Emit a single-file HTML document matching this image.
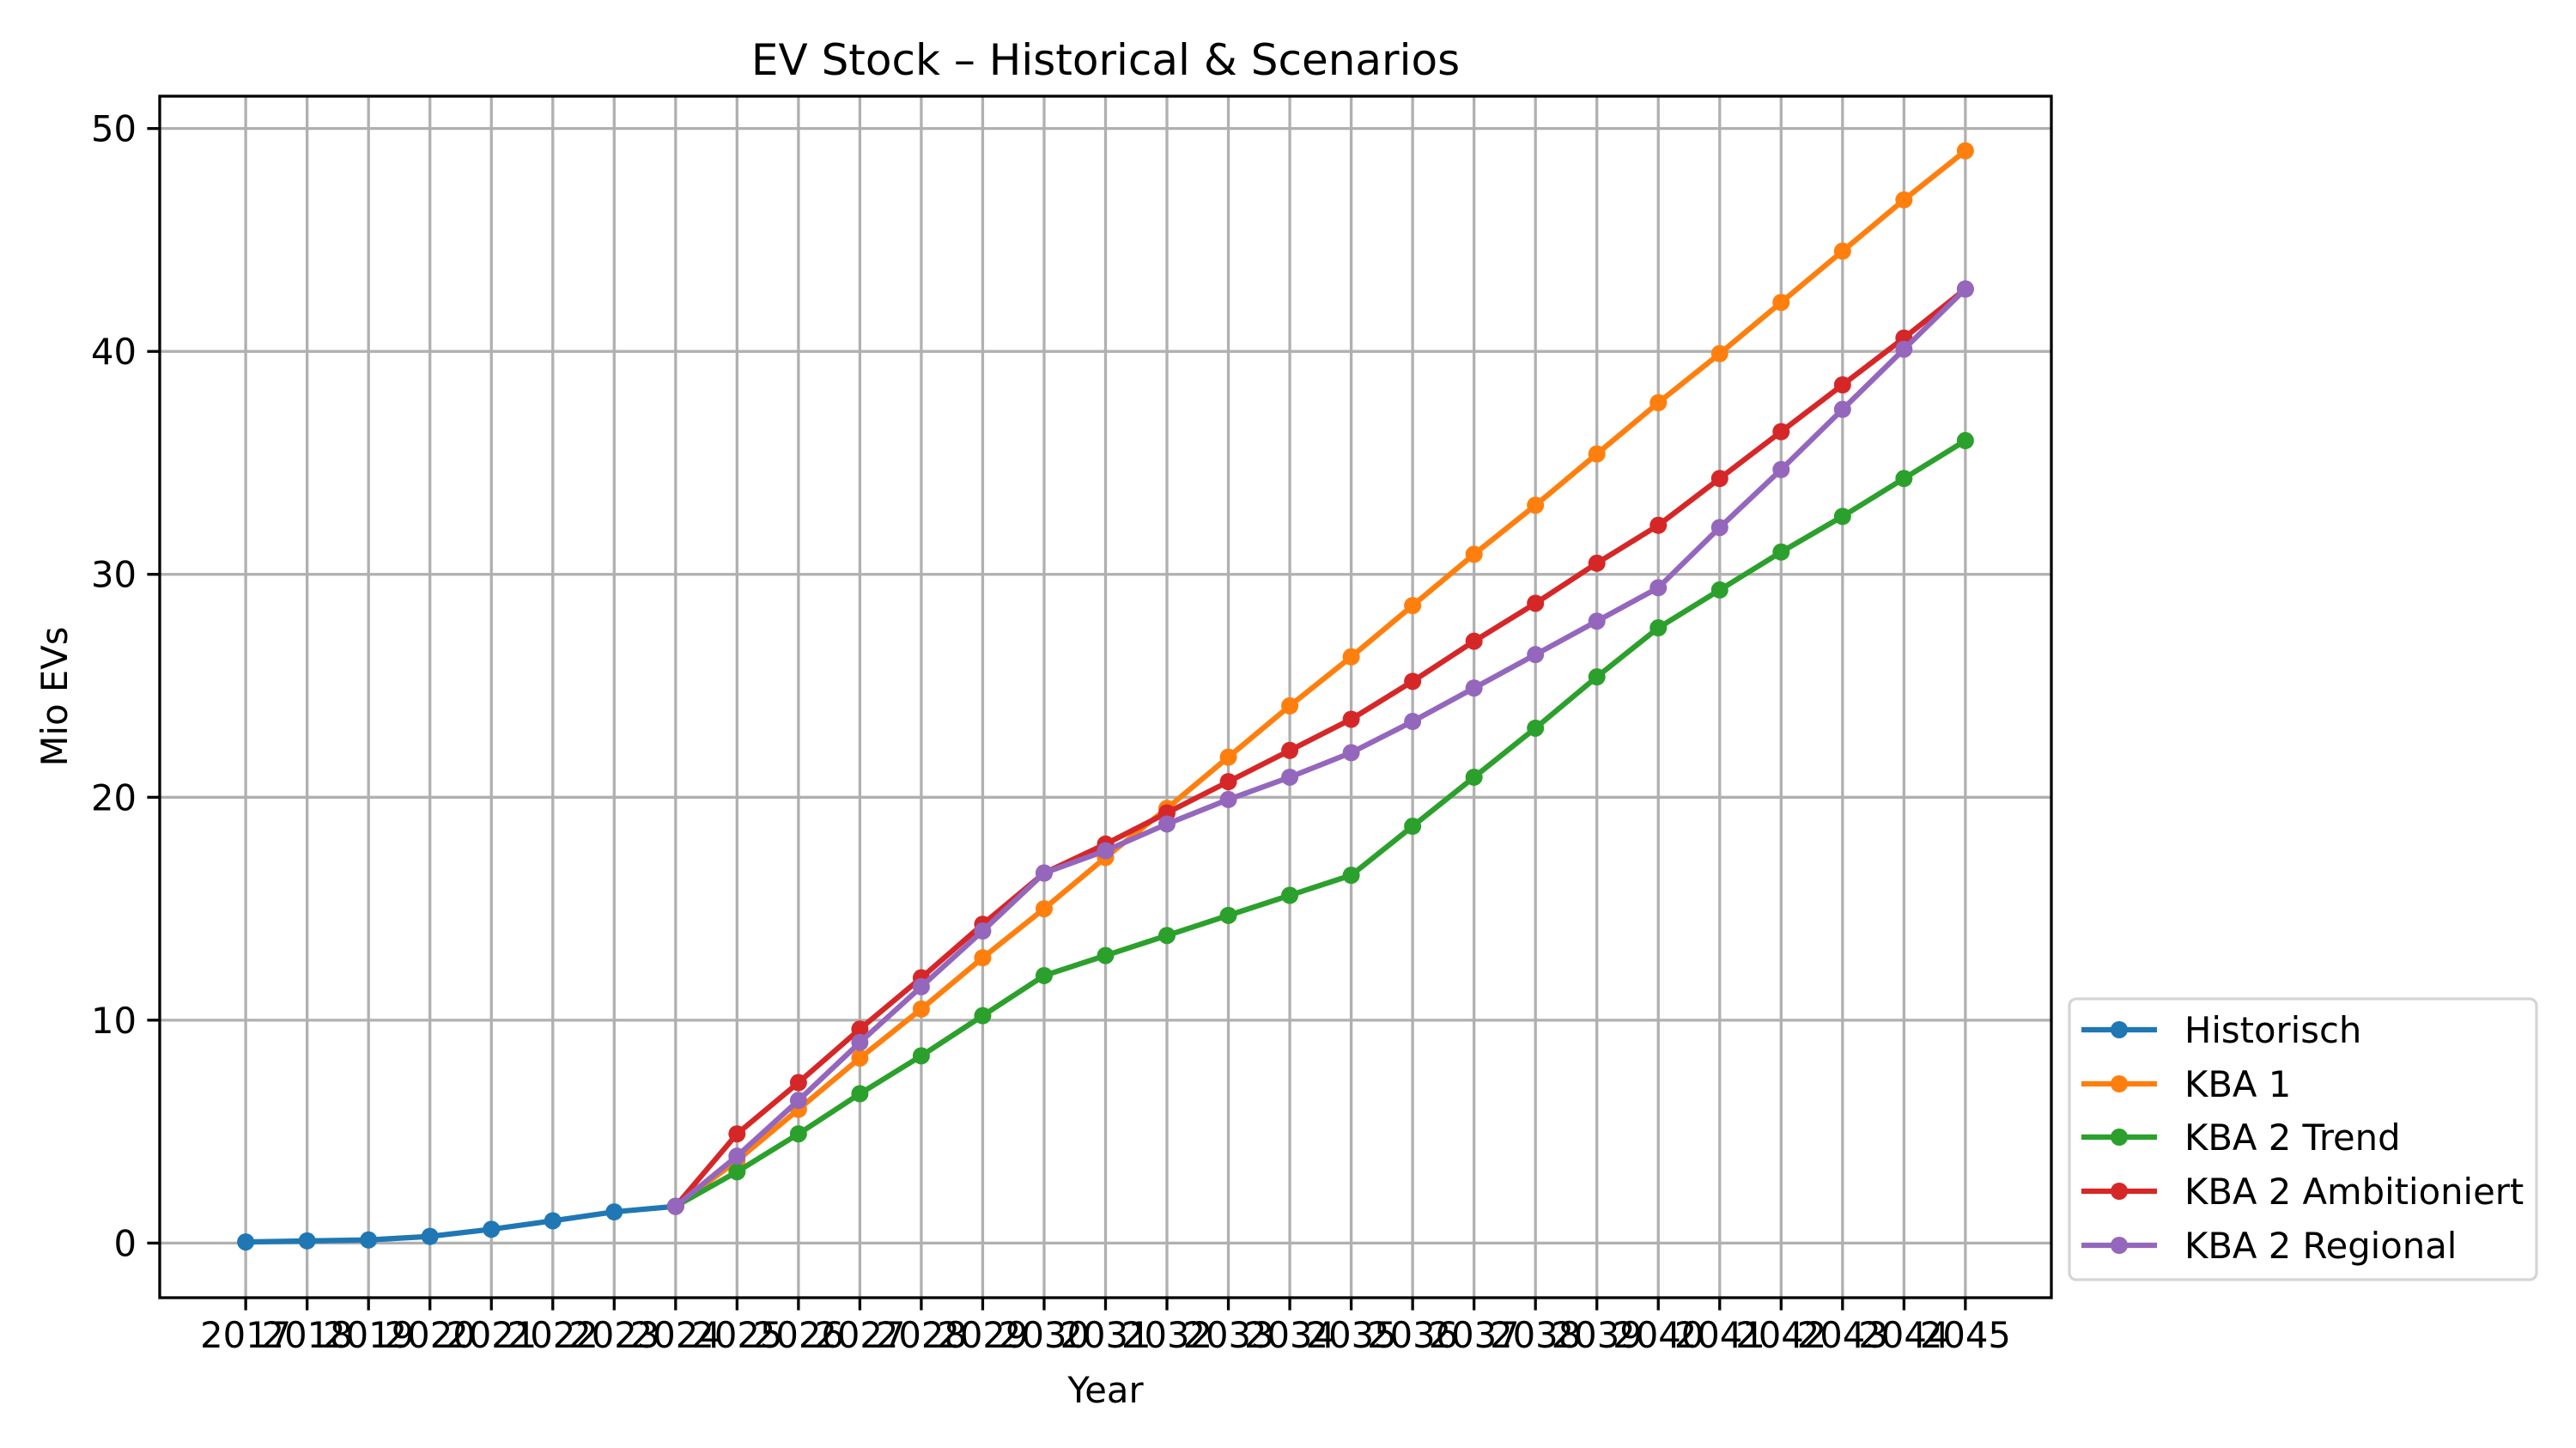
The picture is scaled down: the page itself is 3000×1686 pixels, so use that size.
<!DOCTYPE html>
<html><head><meta charset="utf-8"><style>
html,body{margin:0;padding:0;background:#fff}
svg{display:block;font-family:"DejaVu Sans","Liberation Sans",sans-serif}
</style></head><body>
<svg id="chart" width="3000" height="1686" viewBox="0 0 3000 1686" xmlns="http://www.w3.org/2000/svg">
<rect width="3000" height="1686" fill="#fff"/>
<g id="grid"></g>
<g id="series"></g>
<rect x="186" y="112" width="2203" height="1399" fill="none" stroke="#000" stroke-width="3.3"/>
<g id="ticks"></g>
<text x="1287.5" y="87" font-size="50" text-anchor="middle">EV Stock – Historical &amp; Scenarios</text>
<text x="1287.5" y="1633" font-size="41.7" text-anchor="middle">Year</text>
<text x="0" y="0" font-size="41.7" text-anchor="middle" transform="translate(78,811) rotate(-90)">Mio EVs</text>
<g id="legend"></g>
</svg>
<script>
const years = [2017,2018,2019,2020,2021,2022,2023,2024,2025,2026,2027,2028,2029,2030,2031,2032,2033,2034,2035,2036,2037,2038,2039,2040,2041,2042,2043,2044,2045];
const yTicks = [0,10,20,30,40,50];
const seriesNames = ["Historisch","KBA 1","KBA 2 Trend","KBA 2 Ambitioniert","KBA 2 Regional"];
const seriesColors = ["#1f77b4","#ff7f0e","#2ca02c","#d62728","#9467bd"];
const histYears = [2017,2018,2019,2020,2021,2022,2023,2024];
const histValues = [0.05,0.1,0.14,0.3,0.62,1.0,1.4,1.65];
const scenYears = [2024,2025,2026,2027,2028,2029,2030,2031,2032,2033,2034,2035,2036,2037,2038,2039,2040,2041,2042,2043,2044,2045];
const kba1 = [1.65,3.7,6.0,8.3,10.5,12.8,15.0,17.3,19.5,21.8,24.1,26.3,28.6,30.9,33.1,35.4,37.7,39.9,42.2,44.5,46.8,49.0];
const kba2Trend = [1.65,3.2,4.9,6.7,8.4,10.2,12.0,12.9,13.8,14.7,15.6,16.5,18.7,20.9,23.1,25.4,27.6,29.3,31.0,32.6,34.3,36.0];
const kba2Amb = [1.65,4.9,7.2,9.6,11.9,14.3,16.6,17.9,19.3,20.7,22.1,23.5,25.2,27.0,28.7,30.5,32.2,34.3,36.4,38.5,40.6,42.8];
const kba2Reg = [1.65,3.9,6.4,9.0,11.5,14.0,16.6,17.6,18.8,19.9,20.9,22.0,23.4,24.9,26.4,27.9,29.4,32.1,34.7,37.4,40.1,42.8];

const NS="http://www.w3.org/2000/svg";
const L=186,R=2389,T=112,B=1511;
const xMin=2017-1.4,xMax=2045+1.4,yMin=-2.45,yMax=51.45;
const xs=v=>L+(v-xMin)/(xMax-xMin)*(R-L);
const ys=v=>B-(v-yMin)/(yMax-yMin)*(B-T);
const MR=10;
function mk(tag,attrs,parent){const e=document.createElementNS(NS,tag);for(const k in attrs)e.setAttribute(k,attrs[k]);parent.appendChild(e);return e;}
const grid=document.getElementById('grid'),ticks=document.getElementById('ticks'),series=document.getElementById('series'),legend=document.getElementById('legend');
years.forEach(y=>{
  const g=mk('line',{x1:xs(y),x2:xs(y),y1:T,y2:B,stroke:'#b0b0b0','stroke-width':3.3},grid);
  
  
  const t=mk('line',{x1:xs(y),x2:xs(y),y1:B,y2:B+14.6,stroke:'#000','stroke-width':3.3},ticks);
  
  
  const lb=mk('text',{x:xs(y),y:B+58,'font-size':41.7,'text-anchor':'middle'},ticks);
  lb.textContent=y;
  
  
});
yTicks.forEach(v=>{
  const g=mk('line',{x1:L,x2:R,y1:ys(v),y2:ys(v),stroke:'#b0b0b0','stroke-width':3.3},grid);
  
  
  const t=mk('line',{x1:L-14.6,x2:L,y1:ys(v),y2:ys(v),stroke:'#000','stroke-width':3.3},ticks);
  
  
  const lb=mk('text',{x:L-27,y:ys(v)+15,'font-size':41.7,'text-anchor':'end'},ticks);
  lb.textContent=v;
  
  
});
const data=[[histYears,histValues],[scenYears,kba1],[scenYears,kba2Trend],[scenYears,kba2Amb],[scenYears,kba2Reg]];
data.forEach((d,i)=>{
  const g=mk('g',{},series);
  
  
  const pts=d[0].map((x,j)=>xs(x)+','+ys(d[1][j])).join(' ');
  const pl=mk('polyline',{points:pts,fill:'none',stroke:seriesColors[i],'stroke-width':6.25,'stroke-linejoin':'round','stroke-linecap':'square'},g);
  
  
  d[0].forEach((x,j)=>{
    const c=mk('circle',{cx:xs(x),cy:ys(d[1][j]),r:MR,fill:seriesColors[i]},g);
    
    
  });
});
const box=mk('rect',{x:2410,y:1163,width:544,height:327,rx:8,fill:'#fff','fill-opacity':0.8,stroke:'#d5d5d5','stroke-width':3.3},legend);


const ly=[1199,1262,1324,1387,1450];
seriesNames.forEach((n,i)=>{
  const g=mk('g',{},legend);
  
  
  mk('line',{x1:2424,x2:2512,y1:ly[i],y2:ly[i],stroke:seriesColors[i],'stroke-width':6.25},g);
  mk('circle',{cx:2468,cy:ly[i],r:MR,fill:seriesColors[i]},g);
  const t=mk('text',{x:2544,y:ly[i]+15,'font-size':41.7},g);
  t.textContent=n;
});
</script>
</body></html>
